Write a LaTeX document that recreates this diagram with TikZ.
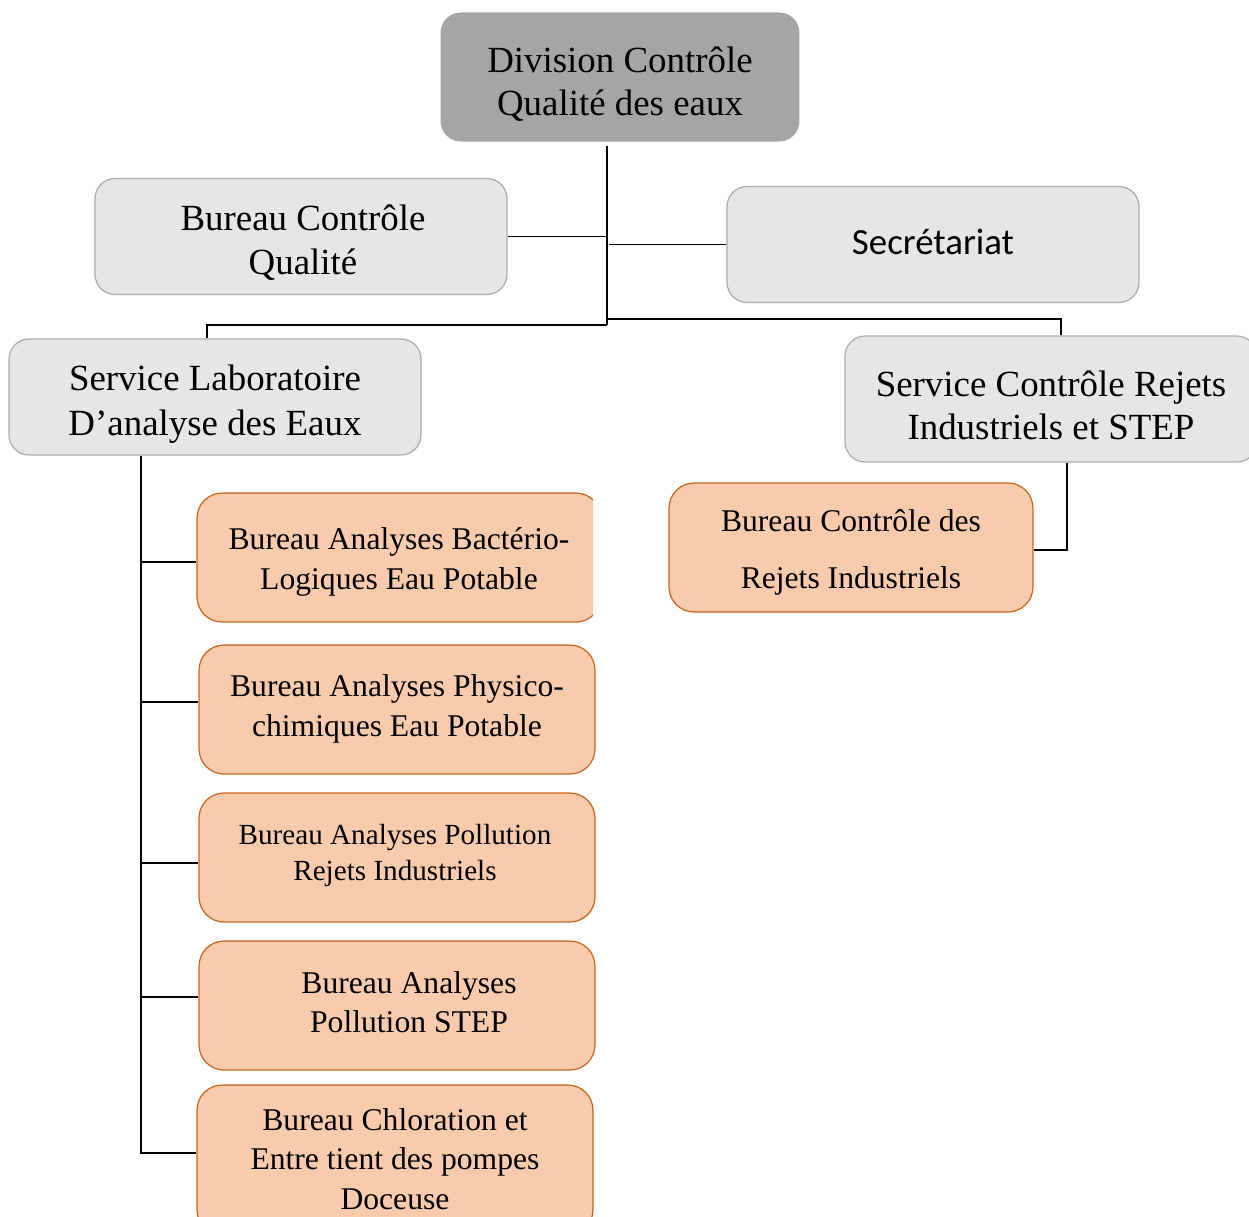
\documentclass[tikz,border=0pt]{standalone}
\usepackage{fontspec}
\setmainfont{Liberation Serif}
\newfontfamily\calibfont{Carlito}
\definecolor{topgray}{HTML}{A5A5A5}
\definecolor{lightgray}{HTML}{E7E6E6}
\definecolor{grayedge}{HTML}{ABABAB}
\definecolor{orangefill}{HTML}{F8CBAD}
\definecolor{orangeedge}{HTML}{C9651E}
\begin{document}
\begin{tikzpicture}[x=0.02cm,y=-0.02cm,
  topbox/.style={fill=topgray, draw=topgray, rounded corners=0.4cm, line width=0.6pt,
    minimum width=7.16cm, minimum height=2.56cm, inner sep=0pt},
  graybox/.style={fill=lightgray, draw=grayedge, rounded corners=0.4cm, line width=0.7pt,
    minimum width=8.24cm, minimum height=2.32cm, inner sep=0pt},
  orangebox/.style={fill=orangefill, draw=orangeedge, rounded corners=0.5cm, line width=0.7pt,
    minimum width=7.92cm, minimum height=2.58cm, inner sep=0pt},
  bigtxt/.style={align=center, inner sep=0pt, font=\fontsize{21}{24.8}\selectfont},
  smalltxt/.style={align=center, inner sep=0pt, font=\fontsize{18}{22.8}\selectfont},
  link/.style={draw=black, line width=1.1pt}]
\useasboundingbox (0,0) rectangle (1249,1217);
\clip (0,0) rectangle (1249,1217);

% boxes
\node[topbox] (div) at (620,77) {};
\node[bigtxt, font=\fontsize{21}{24.5}\selectfont] (divt) at ([yshift=-0.14cm]div.center) {Division Contrôle\\Qualité des eaux};
\node[graybox] (bcq) at (301,236.5) {};
\node[bigtxt] (bcqt) at ([xshift=0.04cm,yshift=-0.12cm]bcq.center) {Bureau Contrôle\\Qualité};
\node[graybox] (secr) at (933,244.5) {};
\node[bigtxt, font=\calibfont\fontsize{21}{24.8}\selectfont] (secrt) at ([yshift=0.06cm]secr.center) {Secrétariat};
\node[graybox] (slab) at (215,397) {};
\node[bigtxt, font=\fontsize{21}{25.5}\selectfont] (slabt) at ([yshift=-0.14cm]slab.center) {Service Laboratoire\\D’analyse des Eaux};
\node[graybox, minimum height=2.52cm] (scr) at (1051,399) {};
\node[bigtxt, font=\fontsize{21}{24.5}\selectfont] (scrt) at ([yshift=-0.12cm]scr.center) {Service Contrôle Rejets\\Industriels et STEP};
\node[orangebox, minimum width=7.28cm] (bcr) at (851,547.5) {};
\node[smalltxt, font=\fontsize{18}{32.4}\selectfont] (bcrt) at ([yshift=-0.1cm]bcr.center) {Bureau Contrôle des\\Rejets Industriels};

\begin{scope}
\clip (0,0) rectangle (593,1217);
\node[orangebox, minimum width=8.08cm] (o1) at (399,557.5) {};
\end{scope}
\node[smalltxt] (o1t) at ([yshift=-0.08cm]o1.center) {Bureau Analyses Bactério-\\Logiques Eau Potable};
\node[orangebox] (o2) at (397,709.5) {};
\node[smalltxt] (o2t) at ([yshift=0.02cm]o2.center) {Bureau Analyses Physico-\\chimiques Eau Potable};
\node[orangebox] (o3) at (397,857.5) {};
\node[smalltxt, font=\fontsize{16.6}{21}\selectfont] (o3t) at ([xshift=-0.04cm,yshift=0.04cm]o3.center) {Bureau Analyses Pollution\\Rejets Industriels};
\node[orangebox] (o4) at (397,1005.5) {};
\node[smalltxt, font=\fontsize{18}{22.2}\selectfont] (o4t) at ([xshift=0.24cm,yshift=0.06cm]o4.center) {Bureau Analyses\\Pollution STEP};
\node[orangebox, minimum height=3.0cm] (o5) at (395,1160) {};
\node[smalltxt, font=\fontsize{18}{22.5}\selectfont] (o5t) at ([yshift=0.02cm]o5.center) {Bureau Chloration et\\Entre tient des pompes\\Doceuse};

% junction coordinates
\coordinate (j1) at (607,325);
\coordinate (j2) at (607,319);
\coordinate (trunk) at (141,455);

% connectors
\draw[link] ([yshift=-0.08cm]div.south -| j1) -- (j1);
\draw[link] (bcq.east) -- (bcq.east -| j1);
\draw[link] (secr.west) -- ([xshift=0.04cm]secr.west -| j1);
\draw[link] (j1) -| ([xshift=-0.16cm]slab.north);
\draw[link] (j2) -| ([xshift=0.2cm]scr.north);
\draw[link] ([xshift=0.32cm]scr.south) |- ([yshift=-0.05cm]bcr.east);
\draw[link] (slab.south -| trunk) -- ([yshift=0.14cm]o5.west -| trunk) -- ([yshift=0.14cm]o5.west);
\draw[link] ([yshift=-0.09cm]o1.west -| trunk) -- ([yshift=-0.09cm]o1.west);
\draw[link] ([yshift=0.15cm]o2.west -| trunk) -- ([yshift=0.15cm]o2.west);
\draw[link] ([yshift=-0.11cm]o3.west -| trunk) -- ([yshift=-0.11cm]o3.west);
\draw[link] ([yshift=0.17cm]o4.west -| trunk) -- ([yshift=0.17cm]o4.west);
\end{tikzpicture}
\end{document}
